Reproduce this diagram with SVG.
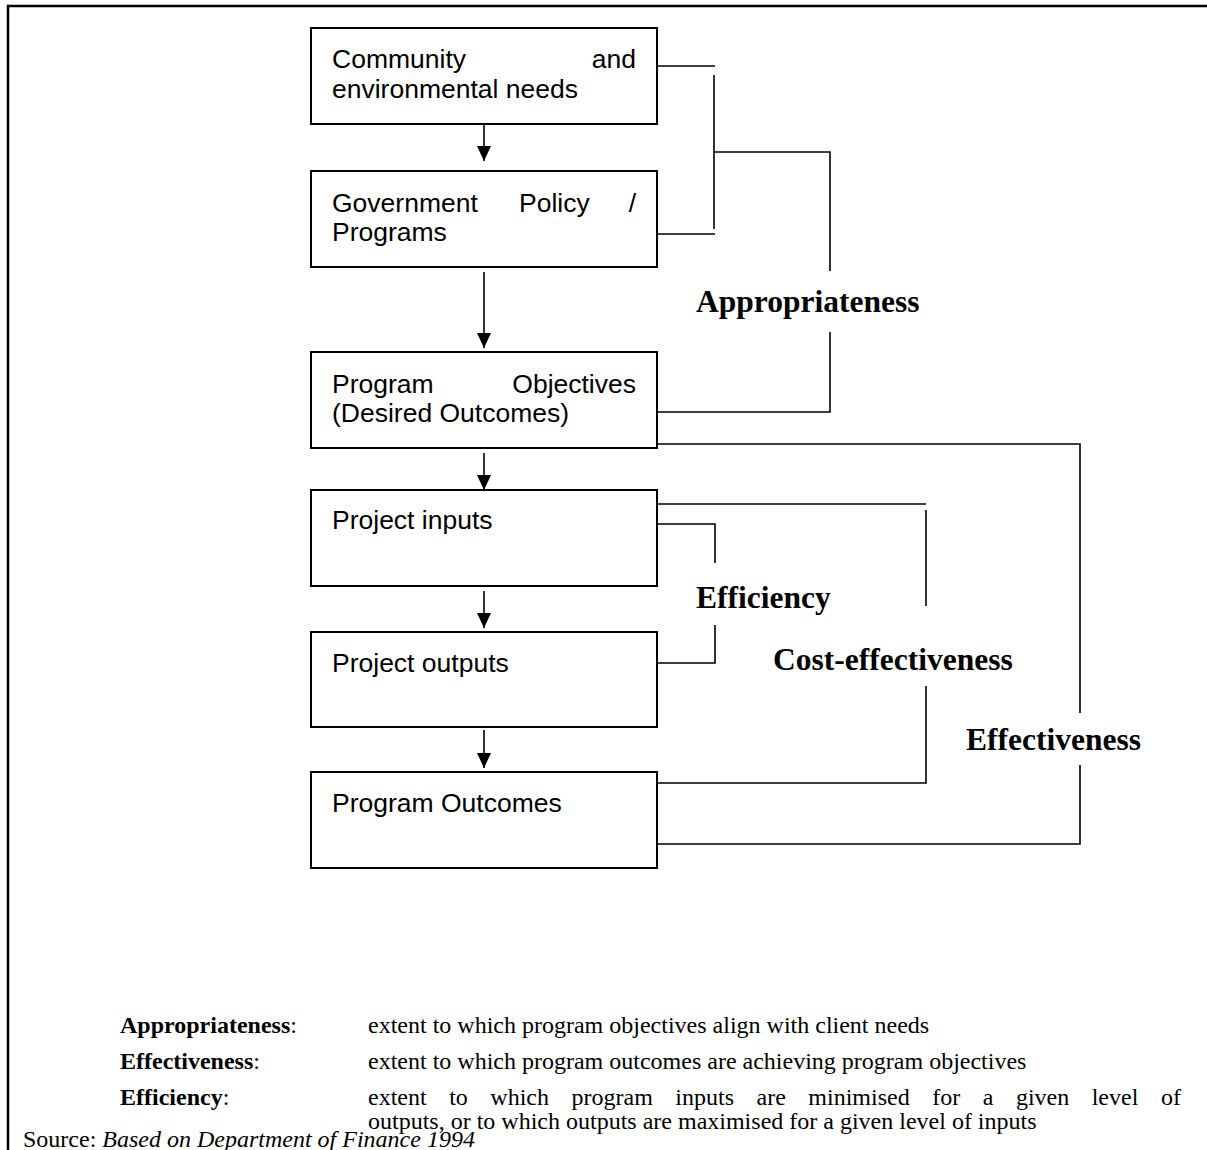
<svg xmlns="http://www.w3.org/2000/svg" width="1207" height="1150" viewBox="0 0 1207 1150">
  <defs>
    <style>
      .box { fill: #fff; stroke: #000; stroke-width: 2; }
      .bt { font-family: "Liberation Sans", Arial, sans-serif; font-size: 26.5px; fill: #000; }
      .lbl { font-family: "Liberation Serif", "Times New Roman", serif; font-size: 31.5px; font-weight: bold; fill: #000; }
      .def { font-family: "Liberation Serif", "Times New Roman", serif; font-size: 24px; fill: #000; }
      .b { font-weight: bold; }
      .i { font-style: italic; }
      .ln { fill: none; stroke: #000; stroke-width: 1.6; }
      .frame { fill: none; stroke: #000; stroke-width: 2.5; }
    </style>
    <marker id="ah" markerUnits="userSpaceOnUse" markerWidth="15" markerHeight="14" refX="15" refY="7" orient="auto">
      <path d="M0,0 L15,7 L0,14 Z" fill="#000"/>
    </marker>
  </defs>
  <rect x="0" y="0" width="1207" height="1150" fill="#fff"/>
  <path class="frame" d="M8,1150 V6 H1207"/>

  <g id="node-community">
    <rect class="box" x="311" y="28" width="346" height="96"/>
    <text class="bt" y="68"><tspan x="332">Community</tspan><tspan x="636" text-anchor="end">and</tspan></text>
    <text class="bt" x="332" y="98">environmental needs</text>
  </g>
  <g id="node-government">
    <rect class="box" x="311" y="171" width="346" height="96"/>
    <text class="bt" y="212"><tspan x="332">Government</tspan><tspan x="519">Policy</tspan><tspan x="636" text-anchor="end">/</tspan></text>
    <text class="bt" x="332" y="241">Programs</text>
  </g>
  <g id="node-objectives">
    <rect class="box" x="311" y="352" width="346" height="96"/>
    <text class="bt" y="393"><tspan x="332">Program</tspan><tspan x="636" text-anchor="end">Objectives</tspan></text>
    <text class="bt" x="332" y="422">(Desired Outcomes)</text>
  </g>
  <g id="node-inputs">
    <rect class="box" x="311" y="490" width="346" height="96"/>
    <text class="bt" x="332" y="529">Project inputs</text>
  </g>
  <g id="node-outputs">
    <rect class="box" x="311" y="632" width="346" height="95"/>
    <text class="bt" x="332" y="672">Project outputs</text>
  </g>
  <g id="node-outcomes">
    <rect class="box" x="311" y="772" width="346" height="96"/>
    <text class="bt" x="332" y="812">Program Outcomes</text>
  </g>

  <g id="connectors">
    <line class="ln" x1="484" y1="124" x2="484" y2="161" marker-end="url(#ah)"/>
    <line class="ln" x1="484" y1="272" x2="484" y2="348" marker-end="url(#ah)"/>
    <line class="ln" x1="484" y1="453" x2="484" y2="490" marker-end="url(#ah)"/>
    <line class="ln" x1="484" y1="591" x2="484" y2="628" marker-end="url(#ah)"/>
    <line class="ln" x1="484" y1="730" x2="484" y2="768" marker-end="url(#ah)"/>

    <!-- Appropriateness -->
    <path class="ln" d="M657,66 H715"/>
    <path class="ln" d="M714,75 V229"/>
    <path class="ln" d="M657,234 H715"/>
    <path class="ln" d="M714,152 H830 V271"/>
    <path class="ln" d="M830,332 V412 H657"/>

    <!-- Effectiveness -->
    <path class="ln" d="M657,444 H1080 V713"/>
    <path class="ln" d="M1080,765 V844 H657"/>

    <!-- Cost-effectiveness -->
    <path class="ln" d="M657,504 H926"/>
    <path class="ln" d="M926,510 V606"/>
    <path class="ln" d="M926,686 V783 H657"/>

    <!-- Efficiency -->
    <path class="ln" d="M657,524 H715 V563"/>
    <path class="ln" d="M715,625 V663 H657"/>
  </g>

  <g id="labels">
    <text class="lbl" x="696" y="312">Appropriateness</text>
    <text class="lbl" x="696" y="608">Efficiency</text>
    <text class="lbl" x="773" y="670">Cost-effectiveness</text>
    <text class="lbl" x="966" y="750">Effectiveness</text>
  </g>

  <g id="legend">
    <text class="def" x="120" y="1033"><tspan class="b">Appropriateness</tspan>:</text>
    <text class="def" x="368" y="1033">extent to which program objectives align with client needs</text>
    <text class="def" x="120" y="1069"><tspan class="b">Effectiveness</tspan>:</text>
    <text class="def" x="368" y="1069">extent to which program outcomes are achieving program objectives</text>
    <text class="def" x="120" y="1105"><tspan class="b">Efficiency</tspan>:</text>
    <text class="def" y="1105"><tspan x="368">extent</tspan><tspan x="449.2">to</tspan><tspan x="490.3">which</tspan><tspan x="571.5">program</tspan><tspan x="675.3">inputs</tspan><tspan x="756.5">are</tspan><tspan x="808.3">minimised</tspan><tspan x="932.2">for</tspan><tspan x="982.7">a</tspan><tspan x="1015.9">given</tspan><tspan x="1091.7">level</tspan><tspan x="1160.9">of</tspan></text>
    <text class="def" x="368" y="1129">outputs, or to which outputs are maximised for a given level of inputs</text>
    <text class="def" x="23" y="1147">Source: <tspan class="i">Based on Department of Finance 1994</tspan></text>
  </g>
</svg>
